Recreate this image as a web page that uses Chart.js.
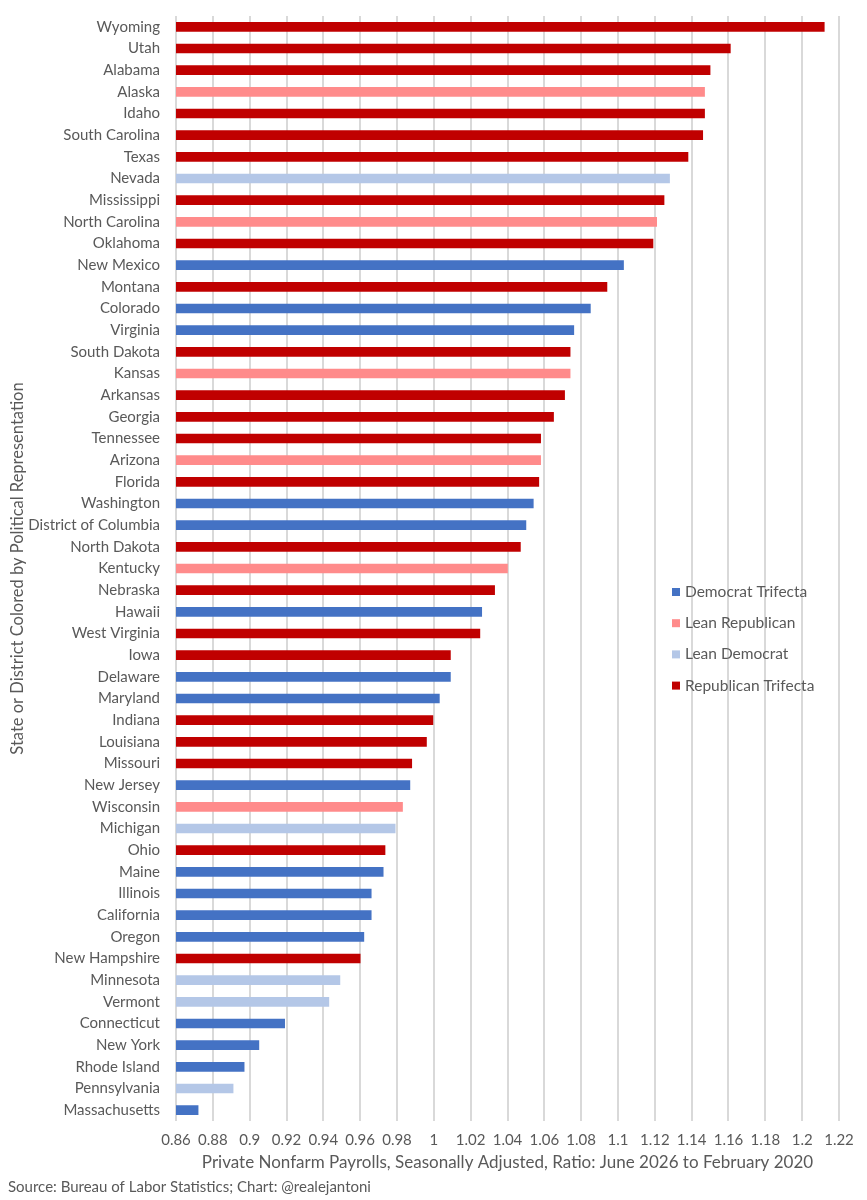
<!DOCTYPE html>
<html>
<head>
    <script src="https://cdn.jsdelivr.net/npm/chart.js"></script>
    <title>Private Nonfarm Payrolls by State</title>
    <style>
        body { margin: 0; background: #fff; }
        #wrap { width: 867px; height: 1200px; }
    </style>
</head>
<body>
    <div id="wrap">
        <canvas id="payrollChart"></canvas>
    </div>

    <script>
        const states = ['Wyoming', 'Utah', 'Alabama', 'Alaska', 'Idaho', 'South Carolina', 'Texas', 'Nevada',
            'Mississippi', 'North Carolina', 'Oklahoma', 'New Mexico', 'Montana', 'Colorado', 'Virginia',
            'South Dakota', 'Kansas', 'Arkansas', 'Georgia', 'Tennessee', 'Arizona', 'Florida', 'Washington',
            'District of Columbia', 'North Dakota', 'Kentucky', 'Nebraska', 'Hawaii', 'West Virginia', 'Iowa',
            'Delaware', 'Maryland', 'Indiana', 'Louisiana', 'Missouri', 'New Jersey', 'Wisconsin', 'Michigan',
            'Ohio', 'Maine', 'Illinois', 'California', 'Oregon', 'New Hampshire', 'Minnesota', 'Vermont',
            'Connecticut', 'New York', 'Rhode Island', 'Pennsylvania', 'Massachusetts'];

        const ratios = [1.212, 1.161, 1.150, 1.147, 1.147, 1.146, 1.138, 1.128,
            1.125, 1.121, 1.119, 1.103, 1.094, 1.085, 1.076,
            1.074, 1.074, 1.071, 1.065, 1.058, 1.058, 1.057, 1.054,
            1.050, 1.047, 1.040, 1.033, 1.026, 1.025, 1.009,
            1.009, 1.003, 0.9995, 0.996, 0.988, 0.987, 0.983, 0.979,
            0.9735, 0.9725, 0.966, 0.966, 0.962, 0.960, 0.949, 0.943,
            0.919, 0.905, 0.897, 0.891, 0.872];

        // D = Democrat Trifecta, LR = Lean Republican, LD = Lean Democrat, R = Republican Trifecta
        const parties = ['R', 'R', 'R', 'LR', 'R', 'R', 'R', 'LD',
            'R', 'LR', 'R', 'D', 'R', 'D', 'D',
            'R', 'LR', 'R', 'R', 'R', 'LR', 'R', 'D',
            'D', 'R', 'LR', 'R', 'D', 'R', 'R',
            'D', 'D', 'R', 'R', 'R', 'D', 'LR', 'LD',
            'R', 'D', 'D', 'D', 'D', 'R', 'LD', 'LD',
            'D', 'D', 'D', 'LD', 'D'];

        const groupKeys = ['D', 'LR', 'LD', 'R'];
        const groupNames = ['Democrat Trifecta', 'Lean Republican', 'Lean Democrat', 'Republican Trifecta'];
        const groupColors = ['#4472C4', '#FF8B8B', '#B4C7E7', '#C00000'];

        const textColor = '#595959';
        const fontFamily = 'Lato, "Open Sans", sans-serif';

        const datasets = groupKeys.map((key, i) => ({
            label: groupNames[i],
            data: ratios.map((v, j) => parties[j] === key ? v : null),
            backgroundColor: groupColors[i],
            barThickness: 9
        }));

        // legend sits inside the plot, on the right, like the original
        const insideLegend = {
            id: 'insideLegend',
            afterDraw(chart) {
                const ctx = chart.ctx;
                const area = chart.chartArea;
                const x = area.right - 167;
                const y0 = 592;
                ctx.save();
                ctx.font = '15.5px ' + fontFamily;
                ctx.textBaseline = 'middle';
                chart.data.datasets.forEach((ds, i) => {
                    const y = y0 + i * 31.2;
                    ctx.fillStyle = ds.backgroundColor;
                    ctx.fillRect(x, y - 4, 8, 8);
                    ctx.fillStyle = textColor;
                    ctx.fillText(ds.label, x + 13, y);
                });
                ctx.restore();
            }
        };

        const ctx = document.getElementById('payrollChart').getContext('2d');
        const chart = new Chart(ctx, {
            type: 'bar',
            data: {
                labels: states,
                datasets: datasets
            },
            options: {
                indexAxis: 'y',
                responsive: true,
                maintainAspectRatio: false,
                animation: false,
                layout: {
                    padding: { top: 16, right: 28, left: 8, bottom: 0 }
                },
                plugins: {
                    legend: { display: false },
                    tooltip: { enabled: false },
                    title: {
                        display: true,
                        position: 'bottom',
                        align: 'start',
                        text: 'Source: Bureau of Labor Statistics; Chart: @realejantoni',
                        color: textColor,
                        font: { family: fontFamily, size: 15, weight: 'normal' },
                        padding: { top: 2, bottom: 4 }
                    }
                },
                scales: {
                    x: {
                        stacked: true,
                        min: 0.86,
                        max: 1.22,
                        ticks: {
                            stepSize: 0.02,
                            color: textColor,
                            font: { family: fontFamily, size: 15 },
                            padding: 10,
                            maxRotation: 0,
                            autoSkip: false,
                            callback: v => String(+v.toFixed(2))
                        },
                        grid: {
                            color: '#D9D9D9',
                            lineWidth: 2,
                            drawTicks: false
                        },
                        border: { display: false },
                        title: {
                            display: true,
                            text: 'Private Nonfarm Payrolls, Seasonally Adjusted, Ratio: June 2026 to February 2020',
                            color: textColor,
                            font: { family: fontFamily, size: 17 },
                            padding: { top: 6, bottom: 3 }
                        },
                        afterFit(scale) {
                            scale.height = 55;
                        }
                    },
                    y: {
                        stacked: true,
                        ticks: {
                            color: textColor,
                            font: { family: fontFamily, size: 15 },
                            padding: 16,
                            autoSkip: false
                        },
                        grid: { display: false, drawTicks: false },
                        border: { display: false },
                        title: {
                            display: true,
                            text: 'State or District Colored by Political Representation',
                            color: textColor,
                            font: { family: fontFamily, size: 16.5 },
                            padding: 0
                        },
                        afterFit(scale) {
                            scale.width = 168;
                            scale.paddingTop = 0;
                            scale.paddingBottom = 0;
                        }
                    }
                }
            },
            plugins: [insideLegend]
        });
    </script>
</body>
</html>
